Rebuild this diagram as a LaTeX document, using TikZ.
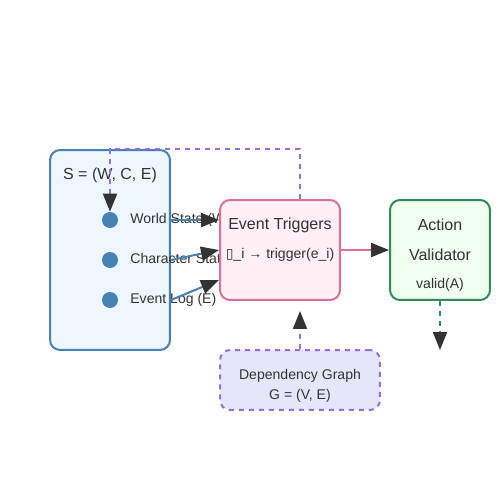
\documentclass[tikz,border=0pt]{standalone}
\usepackage{fontspec}
\setmainfont{Liberation Sans}
\newfontfamily\symfont{DejaVu Sans}
\usetikzlibrary{arrows.meta}

\definecolor{ink}{HTML}{333333}
\definecolor{stline}{HTML}{4682B4}
\definecolor{stfill}{HTML}{EEF6FF}
\definecolor{evline}{HTML}{DB7093}
\definecolor{evfill}{HTML}{FFF0F5}
\definecolor{valine}{HTML}{2E8B57}
\definecolor{vafill}{HTML}{F0FFF0}
\definecolor{dgline}{HTML}{9370DB}
\definecolor{dgfill}{HTML}{E6E6FA}

\begin{document}
\begin{tikzpicture}[
        x=0.02cm, y=-0.02cm,
        >={Triangle[length=0.36cm,width=0.28cm,color=ink]},
        box/.style={draw, rounded corners=0.2cm, line width=0.04cm, inner sep=0pt},
        heading/.style={text=ink, font=\fontsize{9.1}{11}\selectfont},
        itemtext/.style={text=ink, font=\fontsize{8}{10}\selectfont},
        dot/.style={circle, fill=stline, minimum size=0.32cm, inner sep=0pt},
        dashline/.style={dash pattern=on 0.1cm off 0.1cm},
        link/.style={->, line width=0.04cm}
        ]
        \useasboundingbox (0,0) rectangle (500,500);

        % state S
        \node[box, draw=stline, fill=stfill, minimum width=2.4cm, minimum height=4cm] (state) at (110,250) {};
        \node[heading] (stitle) at (110,175) {S = (W, C, E)};
        \node[dot] (w) at (110,220) {};
        \node[dot] (c) at (110,260) {};
        \node[dot] (e) at (110,300) {};
        \node[itemtext, anchor=west, inner xsep=0pt] (wtext) at (130,220) {World State (W)};
        \node[itemtext, anchor=west, inner xsep=0pt] (ctext) at (130,260) {Character State (C)};
        \node[itemtext, anchor=west, inner xsep=0pt] (etext) at (130,300) {Event Log (E)};

        % event triggers
        \node[box, draw=evline, fill=evfill, minimum width=2.4cm, minimum height=2cm] (ev) at (280,250) {};
        \node[heading] (evtitle) at (280,225) {Event Triggers};
        \node[itemtext] (evrule) at (280,255) {{\symfont ▯}\_i → trigger(e\_i)};

        % validator
        \node[box, draw=valine, fill=vafill, minimum width=2cm, minimum height=2cm] (val) at (440,250) {};
        \node[heading] (vatitle1) at (440,225) {Action};
        \node[heading] (vatitle2) at (440,255) {Validator};
        \node[itemtext] (varule) at (440,285) {valid(A)};

        % dependency graph
        \node[box, dashline, draw=dgline, fill=dgfill, minimum width=3.2cm, minimum height=1.2cm] (dep) at (300,380) {};
        \node[itemtext] (deptitle) at (300,376) {Dependency Graph};
        \node[itemtext] (deprule) at (300,396) {G = (V, E)};
        \coordinate (out) at (440,350);

        \draw[link, stline] (w -| state.east) -- (w -| ev.west);
        \draw[link, stline] (c -| state.east) -- (ev.west);
        \draw[link, stline] (e -| state.east) -- ([yshift=-0.6cm]ev.west);
        \draw[link, evline] (ev) -- (val);
        \draw[link, dgline, dashline, shorten >=0.2cm] (dep.north) -- (dep.north |- ev.south);
        \draw[link, dgline, dashline] (dep.north |- ev.north) -- ++(0,-50) -| (w.north);
        \draw[link, valine, dashline] (val.south) -- (out);
\end{tikzpicture}
\end{document}
